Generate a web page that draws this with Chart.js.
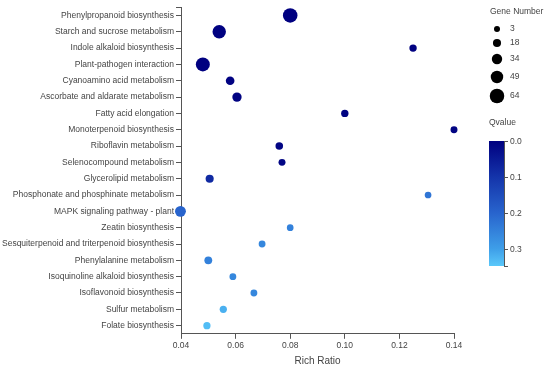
<!DOCTYPE html>
<html>
<head>
<meta charset="utf-8">
<script src="https://cdn.jsdelivr.net/npm/chart.js@4"></script>
<style>
  html, body { margin: 0; padding: 0; background: #fff; }
  #wrap { width: 550px; height: 367px; position: relative; }
</style>
</head>
<body>
<div id="wrap"><canvas id="myChart"></canvas></div>
<script>
const pathways = [
  "Phenylpropanoid biosynthesis",
  "Starch and sucrose metabolism",
  "Indole alkaloid biosynthesis",
  "Plant-pathogen interaction",
  "Cyanoamino acid metabolism",
  "Ascorbate and aldarate metabolism",
  "Fatty acid elongation",
  "Monoterpenoid biosynthesis",
  "Riboflavin metabolism",
  "Selenocompound metabolism",
  "Glycerolipid metabolism",
  "Phosphonate and phosphinate metabolism",
  "MAPK signaling pathway - plant",
  "Zeatin biosynthesis",
  "Sesquiterpenoid and triterpenoid biosynthesis",
  "Phenylalanine metabolism",
  "Isoquinoline alkaloid biosynthesis",
  "Isoflavonoid biosynthesis",
  "Sulfur metabolism",
  "Folate biosynthesis"
];
const richRatio = [0.080, 0.054, 0.125, 0.048, 0.058, 0.0605, 0.100, 0.140, 0.076, 0.077,
  0.0505, 0.1305, 0.0398, 0.080, 0.0697, 0.050, 0.059, 0.0667, 0.0555, 0.0495];
const geneNumber = [64, 56, 13, 60, 22, 27, 13, 10, 14, 10,
  18, 8, 38, 8, 9, 16, 9, 9, 12, 12];
const qvalue = [0.0, 0.002, 0.003, 0.0, 0.004, 0.005, 0.006, 0.008, 0.01, 0.012,
  0.08, 0.23, 0.2, 0.25, 0.26, 0.25, 0.26, 0.26, 0.32, 0.335];

const sizeLegend = [3, 18, 34, 49, 64];
const qTicks = [0.0, 0.1, 0.2, 0.3];
const qMax = 0.348;
const xTicks = [0.04, 0.06, 0.08, 0.10, 0.12, 0.14];

const FONT = "'Liberation Sans', Arial, sans-serif";
const TEXT = "#444";
const AXIS = "#555";

function radius(g) {
  return 3 + (g - 3) * 0.07;
}

const stops = [
  [0.0, [0, 0, 128]],
  [0.1, [20, 52, 170]],
  [0.2, [40, 100, 205]],
  [0.3, [62, 158, 232]],
  [0.348, [90, 200, 250]]
];
function qColor(q) {
  for (let i = 1; i < stops.length; i++) {
    if (q <= stops[i][0] || i === stops.length - 1) {
      const a = stops[i - 1], b = stops[i];
      let t = (q - a[0]) / (b[0] - a[0]);
      t = Math.max(0, Math.min(1, t));
      const c = a[1].map((v, k) => Math.round(v + (b[1][k] - v) * t));
      return `rgb(${c[0]},${c[1]},${c[2]})`;
    }
  }
}

// gene number + qvalue legends on the right, plus the outer tick on top of the y axis
const sideLegend = {
  id: "sideLegend",
  afterDraw(chart) {
    const ctx = chart.ctx;
    const area = chart.chartArea;
    ctx.save();
    ctx.strokeStyle = AXIS;
    ctx.lineWidth = 1;
    ctx.beginPath();
    ctx.moveTo(area.left - 5, Math.round(area.top) + 0.5);
    ctx.lineTo(area.left, Math.round(area.top) + 0.5);
    ctx.stroke();

    ctx.fillStyle = TEXT;
    ctx.font = `8.5px ${FONT}`;
    ctx.textBaseline = "middle";
    ctx.textAlign = "left";
    ctx.fillText("Gene Number", 490, 12);
    const ys = [29, 43, 59, 77, 96];
    sizeLegend.forEach((g, i) => {
      ctx.fillStyle = "#000";
      ctx.beginPath();
      ctx.arc(497, ys[i], radius(g), 0, Math.PI * 2);
      ctx.fill();
      ctx.fillStyle = TEXT;
      ctx.fillText(String(g), 510, ys[i]);
    });

    ctx.fillText("Qvalue", 489, 123);
    const top = 141, bottom = 266, left = 489, w = 15;
    const grad = ctx.createLinearGradient(0, top, 0, bottom);
    stops.forEach(s => grad.addColorStop(s[0] / qMax, qColor(s[0])));
    ctx.fillStyle = grad;
    ctx.fillRect(left, top, w, bottom - top);
    ctx.beginPath();
    ctx.moveTo(left + w + 0.5, top);
    ctx.lineTo(left + w + 0.5, bottom);
    ctx.stroke();
    qTicks.forEach(q => {
      const y = Math.round(top + (q / qMax) * (bottom - top)) + 0.5;
      ctx.beginPath();
      ctx.moveTo(left + w, y);
      ctx.lineTo(left + w + 4, y);
      ctx.stroke();
      ctx.fillStyle = TEXT;
      ctx.fillText(q.toFixed(1), left + w + 6, y);
    });
    ctx.beginPath();
    ctx.moveTo(left + w, bottom + 0.5);
    ctx.lineTo(left + w + 4, bottom + 0.5);
    ctx.stroke();
    ctx.restore();
  }
};

new Chart(document.getElementById("myChart"), {
  type: "scatter",
  data: {
    labels: pathways,
    datasets: [{
      data: pathways.map((p, i) => ({ x: richRatio[i], y: p })),
      pointRadius: geneNumber.map(radius),
      pointHoverRadius: geneNumber.map(radius),
      backgroundColor: qvalue.map(qColor),
      borderColor: qvalue.map(qColor),
      borderWidth: 0,
      clip: false
    }]
  },
  options: {
    responsive: true,
    maintainAspectRatio: false,
    animation: false,
    layout: { padding: { top: 7, right: 96, bottom: 0, left: 0 } },
    plugins: {
      legend: { display: false },
      tooltip: { enabled: false }
    },
    scales: {
      x: {
        type: "linear",
        min: 0.04,
        max: 0.14,
        afterBuildTicks: (axis) => { axis.ticks = xTicks.map(v => ({ value: v })); },
        ticks: {
          color: TEXT,
          font: { family: FONT, size: 8.5 },
          padding: 2,
          callback: (v) => v.toFixed(2)
        },
        grid: { drawOnChartArea: false, drawTicks: true, tickLength: 5, color: AXIS },
        border: { color: AXIS },
        title: {
          display: true,
          text: "Rich Ratio",
          color: TEXT,
          font: { family: FONT, size: 10 },
          padding: { top: 2, bottom: 0 }
        }
      },
      y: {
        type: "category",
        labels: pathways,
        offset: true,
        ticks: {
          color: TEXT,
          font: { family: FONT, size: 8.5 },
          padding: 2,
          autoSkip: false
        },
        grid: { drawOnChartArea: false, drawTicks: true, tickLength: 5, color: AXIS, offset: false },
        border: { color: AXIS }
      }
    }
  },
  plugins: [sideLegend]
});
</script>
</body>
</html>
